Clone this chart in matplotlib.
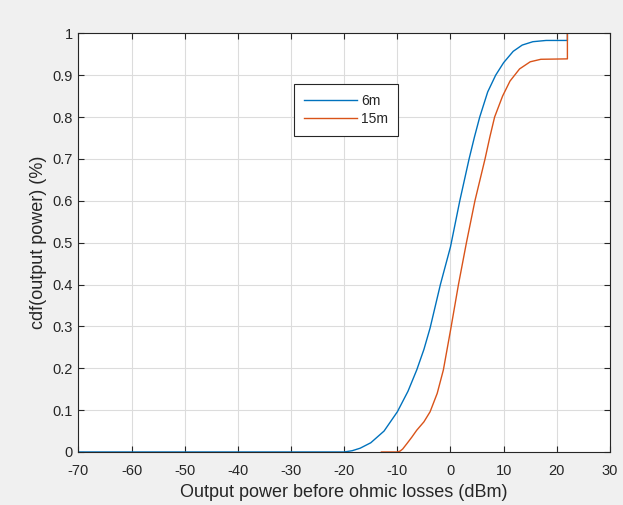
import matplotlib
matplotlib.use("Agg")
import matplotlib.pyplot as plt

# curve values
x_6m = [-70, -20, -18.5, -17, -15, -12.5, -10, -8, -6.35, -5, -3.84, -1.9, 0,
        1.75, 3.5, 4.5, 5.5, 7, 8.5, 10, 11.8, 13.5, 15.5, 18, 22, 22]
y_6m = [0, 0, 0.003, 0.009, 0.022, 0.05, 0.096, 0.145, 0.196, 0.245, 0.296,
        0.40, 0.49, 0.60, 0.70, 0.752, 0.80, 0.86, 0.90, 0.93, 0.957, 0.972,
        0.98, 0.983, 0.983, 1.0]

x_15m = [-13, -10, -9.5, -9, -8.2, -7.3, -6.35, -5, -3.84, -2.5, -1.34, 0.08,
         1.5, 3.0, 4.6, 6.5, 7.4, 8.3, 9.8, 11.2, 13, 15, 17, 22, 22]
y_15m = [0, 0, 0.002, 0.007, 0.02, 0.035, 0.052, 0.072, 0.096, 0.14, 0.196,
         0.296, 0.40, 0.50, 0.60, 0.70, 0.752, 0.80, 0.85, 0.886, 0.915, 0.932,
         0.938, 0.939, 1.0]

labels = ["6m", "15m"]
xticks = list(range(-70, 31, 10))
yticks = [0, 0.1, 0.2, 0.3, 0.4, 0.5, 0.6, 0.7, 0.8, 0.9, 1]
ytick_labels = ["0", "0.1", "0.2", "0.3", "0.4", "0.5", "0.6", "0.7", "0.8", "0.9", "1"]

plt.rcParams['font.family'] = ['Liberation Sans', 'DejaVu Sans']
plt.rcParams['axes.unicode_minus'] = False
dark = "#262626"

fig = plt.figure(figsize=(6.23, 5.05), dpi=100, facecolor="#f0f0f0")
ax = fig.add_axes([0.126, 0.105, 0.853, 0.829])
ax.set_facecolor("white")

ax.plot(x_6m, y_6m, color="#0072BD", lw=1.0, label=labels[0])
ax.plot(x_15m, y_15m, color="#D95319", lw=1.0, label=labels[1])

ax.set_xlim(-70, 30)
ax.set_ylim(0, 1)
ax.set_xticks(xticks)
ax.set_yticks(yticks)
ax.set_yticklabels(ytick_labels)
ax.grid(True, color="#dcdcdc", lw=0.8)
ax.set_axisbelow(True)
ax.tick_params(direction="in", length=4, width=0.8, colors=dark,
               labelsize=10.5, top=True, right=True)
ax.tick_params(axis="x", pad=9)
ax.tick_params(axis="y", pad=4)
for s in ax.spines.values():
    s.set_color(dark)
    s.set_linewidth(0.8)

ax.set_xlabel("Output power before ohmic losses (dBm)", fontsize=13, color=dark, labelpad=4)
ax.set_ylabel("cdf(output power) (%)", fontsize=13, color=dark, labelpad=4)

leg = ax.legend(loc="upper left", bbox_to_anchor=(0.406, 0.878), borderaxespad=0,
                fontsize=10, handlelength=3.8, labelspacing=0.3, handletextpad=0.3,
                borderpad=0.7, fancybox=False, framealpha=1, edgecolor=dark)
leg.get_frame().set_linewidth(0.8)
for t in leg.get_texts():
    t.set_color(dark)

fig.savefig("out.png", dpi=100, facecolor=fig.get_facecolor())
